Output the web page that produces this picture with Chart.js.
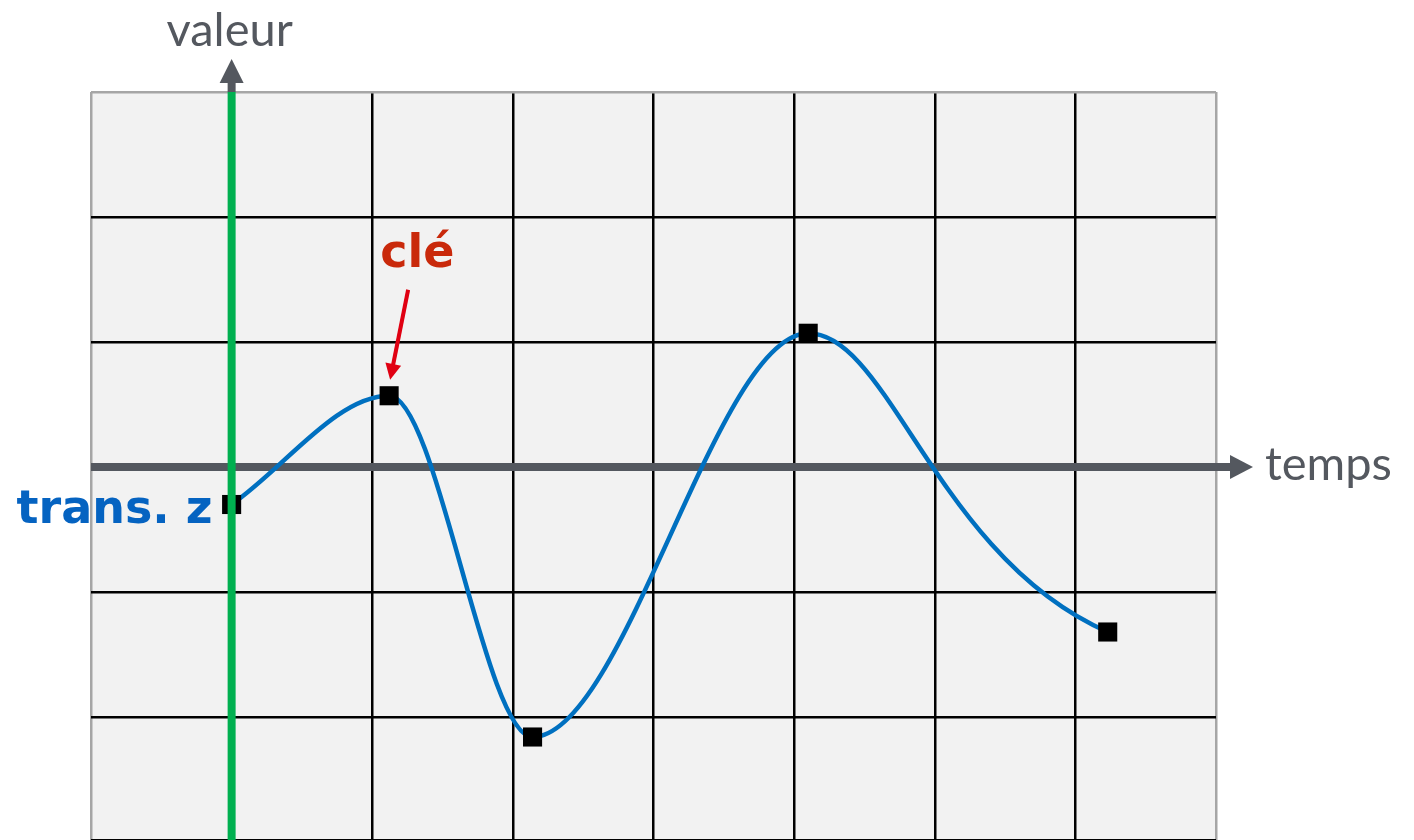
<!DOCTYPE html>
<html>
<head>
<meta charset="utf-8">
<title>valeur / temps</title>
<script src="https://cdn.jsdelivr.net/npm/chart.js@4.4.1/dist/chart.umd.min.js"></script>
<style>
  html, body { margin: 0; padding: 0; background: #ffffff; }
  #wrap { width: 1414px; height: 840px; }
</style>
</head>
<body>
<div id="wrap"><canvas id="chart-container" width="1414" height="840"></canvas></div>
<script>
// cles de l'animation (temps, valeur)
var temps = [0, 1.12, 2.14, 4.1, 6.23];
var valeurs = [-0.3, 0.57, -2.16, 1.07, -1.32];

// bornes de la grille
var tempsMin = -1, tempsMax = 7;
var valeurMin = -2.984, valeurMax = 3;

// textes
var titreX = 'temps';
var titreY = 'valeur';
var etiquetteCle = 'clé';
var etiquetteCourbe = 'trans. z';

var gris = '#54585f';
var grisCadre = '#a6a6a6';

var points = temps.map((t, i) => ({ x: t, y: valeurs[i] }));

// fond gris clair de la zone du graphique
var fond = {
    id: 'fond',
    beforeDraw: function (chart) {
        var a = chart.chartArea, c = chart.ctx;
        c.save();
        c.fillStyle = '#f2f2f2';
        c.fillRect(a.left, a.top, a.right - a.left, a.bottom - a.top);
        c.restore();
    }
};

// poignees de la derniere cle : entree "ease in" (comme dans l'editeur de courbes)
var poignees = {
    id: 'poignees',
    beforeDatasetsDraw: function (chart) {
        var meta = chart.getDatasetMeta(0);
        meta.dataset.updateControlPoints(chart.chartArea, meta.iAxis);
        var pts = meta.data, n = pts.length;
        var a = pts[n - 2], b = pts[n - 1];
        a.cp2x = a.x + (b.x - a.x) * 0.27;
        b.cp1x = b.x - (b.x - a.x) * 0.57;
        b.cp1y = b.y - (b.y - a.y) * 0.25;
    }
};

// axe du temps (gris, sous la courbe)
var axeTemps = {
    id: 'axeTemps',
    beforeDatasetsDraw: function (chart) {
        var c = chart.ctx, a = chart.chartArea;
        var y0 = chart.scales.y.getPixelForValue(0);
        var fin = a.right + 14;
        c.save();
        c.strokeStyle = gris;
        c.fillStyle = gris;
        c.lineWidth = 8;
        c.beginPath();
        c.moveTo(a.left, y0);
        c.lineTo(fin, y0);
        c.stroke();
        c.beginPath();
        c.moveTo(fin, y0 - 12);
        c.lineTo(fin + 23, y0);
        c.lineTo(fin, y0 + 12);
        c.closePath();
        c.fill();
        c.font = '47px Lato';
        c.textBaseline = 'alphabetic';
        c.fillText(titreX, fin + 35, y0 + 13);
        c.restore();
    }
};

// axe des valeurs (vert, par dessus tout) + annotations
var axeValeur = {
    id: 'axeValeur',
    afterDatasetsDraw: function (chart) {
        var c = chart.ctx, a = chart.chartArea;
        var x0 = chart.scales.x.getPixelForValue(0);
        c.save();
        c.strokeStyle = '#00b050';
        c.lineWidth = 8;
        c.beginPath();
        c.moveTo(x0, a.top);
        c.lineTo(x0, a.bottom);
        c.stroke();
        // fleche grise au dessus
        c.strokeStyle = gris;
        c.fillStyle = gris;
        c.beginPath();
        c.moveTo(x0, a.top);
        c.lineTo(x0, a.top - 10);
        c.stroke();
        c.beginPath();
        c.moveTo(x0 - 12, a.top - 9);
        c.lineTo(x0, a.top - 33);
        c.lineTo(x0 + 12, a.top - 9);
        c.closePath();
        c.fill();
        c.font = '47px Lato';
        c.textAlign = 'center';
        c.fillText(titreY, x0 - 2, a.top - 46);

        var meta = chart.getDatasetMeta(0);
        var p1 = meta.data[0], p2 = meta.data[1];

        // nom de la courbe
        c.font = 'bold 46px "DejaVu Sans"';
        c.textAlign = 'right';
        c.fillStyle = '#0563c1';
        c.fillText(etiquetteCourbe, p1.x - 19, p1.y + 18);

        // cle + fleche rouge
        c.textAlign = 'left';
        c.fillStyle = '#c9290b';
        c.fillText(etiquetteCle, p2.x - 9, p2.y - 129);
        var qx = p2.x + 19, qy = p2.y - 106;
        var tx = p2.x + 1, ty = p2.y - 16;
        var ang = Math.atan2(ty - qy, tx - qx);
        c.strokeStyle = '#e00012';
        c.fillStyle = '#e00012';
        c.lineWidth = 4;
        c.beginPath();
        c.moveTo(qx, qy);
        c.lineTo(tx - 12 * Math.cos(ang), ty - 12 * Math.sin(ang));
        c.stroke();
        c.beginPath();
        c.moveTo(tx, ty);
        c.lineTo(tx - 16 * Math.cos(ang) + 8 * Math.sin(ang), ty - 16 * Math.sin(ang) - 8 * Math.cos(ang));
        c.lineTo(tx - 16 * Math.cos(ang) - 8 * Math.sin(ang), ty - 16 * Math.sin(ang) + 8 * Math.cos(ang));
        c.closePath();
        c.fill();
        c.restore();
    }
};

var ctx = document.getElementById('chart-container').getContext('2d');

var chart = new Chart(ctx, {
    type: 'line',
    data: {
        datasets: [{
            label: etiquetteCourbe,
            data: points,
            borderColor: '#0070c0',
            borderWidth: 4.5,
            cubicInterpolationMode: 'monotone',
            pointStyle: 'rect',
            pointRadius: 13.5,
            pointBorderWidth: 0,
            pointBackgroundColor: '#000000',
            fill: false
        }]
    },
    options: {
        responsive: false,
        animation: false,
        layout: { autoPadding: false, padding: { left: 91, right: 198, top: 92, bottom: 0 } },
        plugins: { legend: { display: false }, tooltip: { enabled: false } },
        scales: {
            x: {
                type: 'linear',
                min: tempsMin,
                max: tempsMax,
                ticks: { display: false, stepSize: 1 },
                border: { display: false },
                grid: {
                    drawTicks: false,
                    lineWidth: 2.5,
                    color: c => (c.tick.value === tempsMin || c.tick.value === tempsMax) ? grisCadre : '#000000'
                },
                afterFit: s => { s.height = 0; }
            },
            y: {
                min: valeurMin,
                max: valeurMax,
                ticks: { display: false, stepSize: 1 },
                border: { display: false },
                grid: {
                    drawTicks: false,
                    lineWidth: 2.5,
                    color: c => c.tick.value === valeurMax ? grisCadre : '#000000'
                },
                afterFit: s => { s.width = 0; }
            }
        }
    },
    plugins: [fond, poignees, axeTemps, axeValeur]
});
</script>
</body>
</html>
